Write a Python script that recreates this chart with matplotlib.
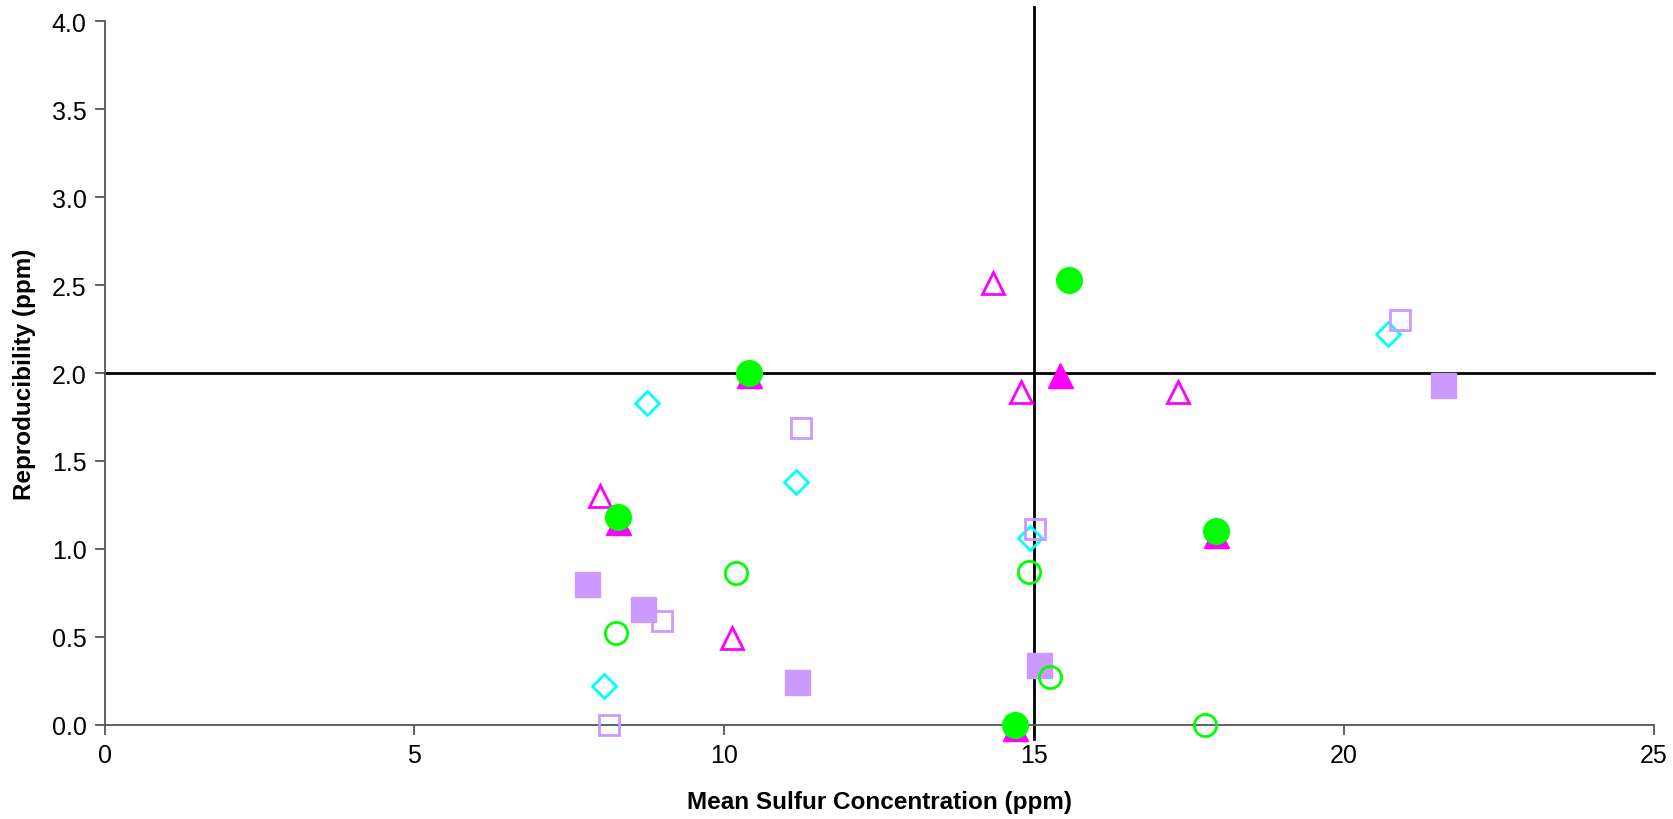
import matplotlib
matplotlib.use("Agg")
import matplotlib.pyplot as plt

plt.rcParams['font.family'] = ['Liberation Sans', 'DejaVu Sans']

# Data (x = mean sulfur concentration, y = reproducibility)
filled_circle_x = [10.40, 15.56, 8.28, 17.94, 14.69]
filled_circle_y = [2.00, 2.53, 1.18, 1.10, 0.00]

filled_tri_x = [10.40, 15.41, 8.28, 17.94, 14.69]
filled_tri_y = [1.99, 1.99, 1.15, 1.08, -0.02]

open_circle_x = [8.26, 10.19, 14.91, 15.25, 17.75]
open_circle_y = [0.52, 0.86, 0.87, 0.27, 0.00]

open_tri_x = [7.99, 10.12, 14.34, 14.79, 17.32]
open_tri_y = [1.30, 0.49, 2.51, 1.89, 1.89]

open_diamond_x = [8.75, 11.16, 8.06, 14.94, 20.71]
open_diamond_y = [1.83, 1.38, 0.22, 1.06, 2.22]

open_square_x = [11.24, 9.00, 8.14, 15.01, 20.90]
open_square_y = [1.69, 0.59, 0.00, 1.11, 2.30]

filled_square_x = [7.78, 8.68, 11.17, 15.08, 21.60]
filled_square_y = [0.80, 0.66, 0.24, 0.34, 1.93]

ref_x = 15
ref_y = 2.0

x_ticks = [0, 5, 10, 15, 20, 25]
y_ticks = [0.0, 0.5, 1.0, 1.5, 2.0, 2.5, 3.0, 3.5, 4.0]

fig = plt.figure(figsize=(16.73, 8.2), dpi=100)
ax = fig.add_axes([0.0625, 0.1151, 0.9261, 0.8576])
ax.set_xlim(0, 25)
ax.set_ylim(0, 4)

# reference lines
ax.plot([ref_x, ref_x], [-0.08, 4.08], color='black', lw=2, clip_on=False, zorder=2)
ax.plot([0, 25], [ref_y, ref_y], color='black', lw=2, clip_on=False, zorder=2)

GREEN = '#00FF00'
MAG = '#FF00FF'
CYAN = '#00FFFF'
LAV = '#CC99FF'
kw = dict(linestyle='none', clip_on=False, zorder=3)

ax.plot(filled_tri_x, filled_tri_y, marker='^', ms=18, color=MAG, mec=MAG, **kw)
ax.plot(open_tri_x, open_tri_y, marker='^', ms=16, mfc='none', mec=MAG, mew=2, **kw)
ax.plot(open_diamond_x, open_diamond_y, marker='D', ms=12.5, mfc='none', mec=CYAN, mew=2, **kw)
ax.plot(open_square_x, open_square_y, marker='s', ms=15, mfc='none', mec=LAV, mew=2, **kw)
ax.plot(filled_square_x, filled_square_y, marker='s', ms=18, color=LAV, mec=LAV, **kw)
ax.plot(open_circle_x, open_circle_y, marker='o', ms=16, mfc='none', mec=GREEN, mew=2, **kw)
ax.plot(filled_circle_x, filled_circle_y, marker='o', ms=18.5, color=GREEN, mec=GREEN, **kw)

for s in ['top', 'right']:
    ax.spines[s].set_visible(False)
for s in ['left', 'bottom']:
    ax.spines[s].set_color('#555555')
    ax.spines[s].set_linewidth(1.3)

ax.set_xticks(x_ticks)
ax.set_yticks(y_ticks)
ax.set_xticklabels([str(t) for t in x_ticks])
ax.set_yticklabels([f"{t:.1f}" for t in y_ticks])
ax.tick_params(direction='out', length=7, width=1.3, color='#555555', labelsize=18, pad=6)

ax.set_xlabel('Mean Sulfur Concentration (ppm)', fontsize=17.5, fontweight='bold', labelpad=17)
ax.set_ylabel('Reproducibility (ppm)', fontsize=17.5, fontweight='bold', labelpad=11)

fig.savefig('out.png', dpi=100)
